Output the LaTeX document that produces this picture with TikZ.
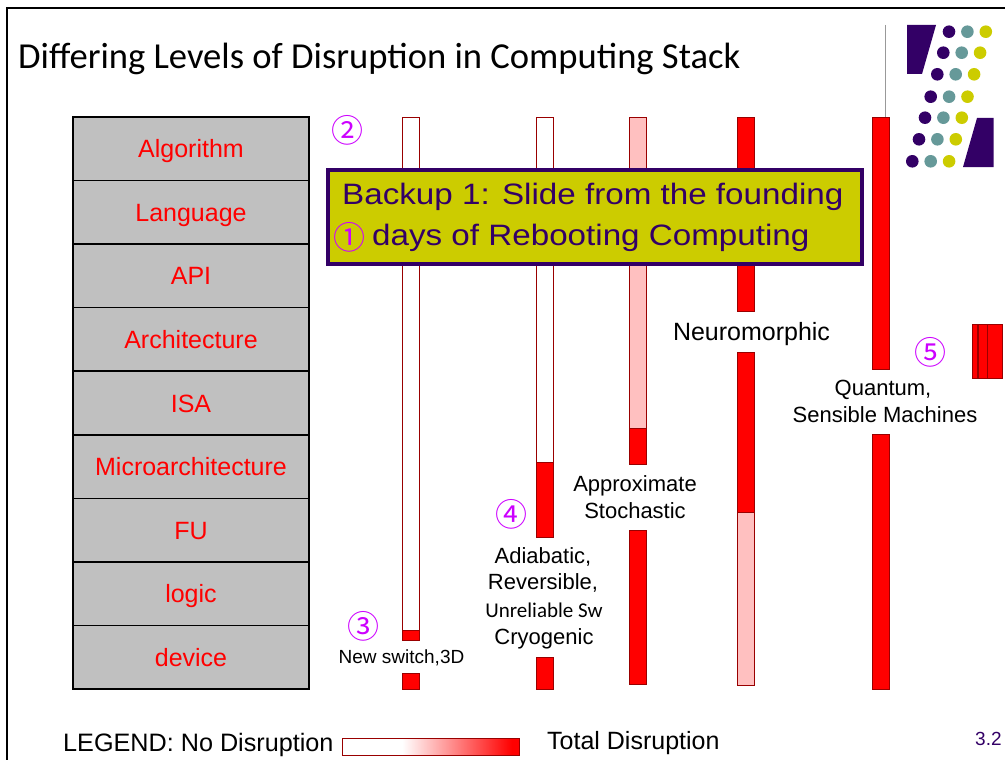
\documentclass[tikz,border=0pt]{standalone}
\usepackage{fontspec}
\setmainfont{Liberation Sans}
\newfontfamily\calib{Carlito}
\newfontfamily\cjk{Noto Sans CJK JP}
\newfontfamily\widesans[FakeStretch=1.125]{Liberation Sans}
\definecolor{boxyellow}{RGB}{204,204,0}
\definecolor{dpurple}{RGB}{51,0,102}
\definecolor{lteal}{RGB}{102,153,153}
\definecolor{tablegray}{RGB}{192,192,192}
\definecolor{barline}{RGB}{153,0,0}
\definecolor{barpink}{RGB}{255,192,192}
\definecolor{numcol}{RGB}{204,0,255}
\pgfdeclarehorizontalshading{legendshade}{100bp}{color(0bp)=(white); color(42bp)=(white); color(73bp)=(red); color(100bp)=(red)}
\newcommand{\fs}[1]{\fontsize{#1}{#1}\selectfont}
\newcommand{\barseg}[4]{\filldraw[fill=#4, draw=barline, line width=0.9pt] (#1,#2) rectangle (#1+17,#3);}
\begin{document}
\begin{tikzpicture}[x=1pt,y=-1pt,
  layer/.style={draw=black, line width=1.4pt, fill=tablegray, minimum width=236pt, minimum height=63.56pt, inner sep=0pt, text=red, font=\fs{25}, text height=18pt, text depth=0pt},
  lbl/.style={font=\fs{22}, anchor=base, inner sep=0pt},
  num/.style={inner sep=0pt, text=numcol, font=\cjk\fs{32}},
  dot/.style={circle, inner sep=0pt, minimum size=12.6pt}]
\useasboundingbox (0,0) rectangle (1005,760);
% frame
\draw[line width=2pt] (7,765) -- (7,8) -- (1010,8);
% gray line
\draw[gray!80, line width=1pt] (885,25) -- (885,117);
% logo
\fill[dpurple] (907,25) -- (936,25) -- (922,74) -- (907,74) -- cycle;
\fill[dpurple] (977,118) -- (993.5,118) -- (993.5,167) -- (963,167) -- cycle;
\foreach \i/\xx/\yy in {1/949/31.7, 2/943.3/52.7, 3/937.3/74.3, 4/930.7/96.7, 5/925/117.7, 6/919/139.3, 7/912.3/161.3}{
  \node[dot, fill=dpurple] (da\i) at (\xx,\yy) {};
  \node[dot, fill=lteal] (db\i) at (\xx+18.4,\yy) {};
  \node[dot, fill=boxyellow] (dc\i) at (\xx+36.8,\yy) {};
}
% title
\node[anchor=base west, inner sep=0pt, font=\calib\fs{36.6}] (title) at (18,69) {Differing Levels of Disruption in Computing Stack};
% stack
\node[layer] (L1) at (191,148.8) {Algorithm};
\node[layer] (L2) at (191,212.3) {Language};
\node[layer] (L3) at (191,275.9) {API};
\node[layer] (L4) at (191,339.4) {Architecture};
\node[layer] (L5) at (191,403.0) {ISA};
\node[layer] (L6) at (191,466.6) {Microarchitecture};
\node[layer] (L7) at (191,530.1) {FU};
\node[layer] (L8) at (191,593.7) {logic};
\node[layer] (L9) at (191,657.2) {device};
% bars
\barseg{402}{117}{630}{white}
\barseg{402}{630}{640}{red}
\barseg{402}{673}{689}{red}
\barseg{536}{117}{462}{white}
\barseg{536}{462}{537}{red}
\barseg{536}{657}{689}{red}
\barseg{629}{117}{428}{barpink}
\barseg{629}{428}{464}{red}
\barseg{629}{530}{684}{red}
\barseg{737}{117}{311}{red}
\barseg{737}{352}{512}{red}
\barseg{737}{512}{685}{barpink}
\barseg{872}{117}{369}{red}
\barseg{872}{434}{689}{red}
\filldraw[fill=red, draw=barline, line width=0.9pt] (972,324) rectangle (977,378);
\filldraw[fill=red, draw=barline, line width=0.9pt] (978,324) rectangle (987,378);
\filldraw[fill=red, draw=barline, line width=0.9pt] (987,324) rectangle (1002,378);
% backup box
\node[draw=dpurple, line width=4pt, fill=boxyellow, minimum width=534pt, minimum height=94pt, inner sep=0pt, anchor=north west] (box) at (326,168) {};
\node[anchor=base west, inner sep=0pt, text=dpurple, font=\widesans\fs{29.5}] (bk1) at (342,204) {Backup 1: Slide from the founding};
\node[anchor=base west, inner sep=0pt, text=dpurple, font=\widesans\fs{29.5}] (bk2) at (372,245) {days of Rebooting Computing};
\node[num] (n1) at (349,237) {①};
\node[num] (n2) at (347,130) {②};
\node[num] (n3) at (363,626) {③};
\node[num] (n4) at (511,514) {④};
\node[num] (n5) at (930,352) {⑤};
% labels
\node[lbl, font=\fs{25}] (neuro) at (751.5,340) {Neuromorphic};
\node[lbl] (quant) at (883,395) {Quantum,};
\node[lbl] (sens) at (885,422) {Sensible Machines};
\node[lbl] (appr) at (635,491) {Approximate};
\node[lbl] (stoch) at (635,518) {Stochastic};
\node[lbl] (adia) at (543,563) {Adiabatic,};
\node[lbl] (rev) at (543,589) {Reversible,};
\node[lbl, font=\calib\fs{21}] (unrel) at (544,617) {Unreliable Sw};
\node[lbl] (cryo) at (544,644) {Cryogenic};
\node[lbl, font=\fs{19}] (news) at (401.5,663) {New switch,3D};
% legend
\node[anchor=base west, inner sep=0pt, font=\fs{25.2}] (leg) at (63,751) {LEGEND: No Disruption};
\shade[shading=legendshade] (342,738) rectangle (519,755);
\draw[barline, line width=0.9pt] (342,738) rectangle (519,755);
\node[anchor=base west, inner sep=0pt, font=\fs{25}] (tot) at (547,749) {Total Disruption};
\node[anchor=base west, inner sep=0pt, font=\fs{19}, text=dpurple] (pg) at (975,745) {3.2};
\end{tikzpicture}
\end{document}
